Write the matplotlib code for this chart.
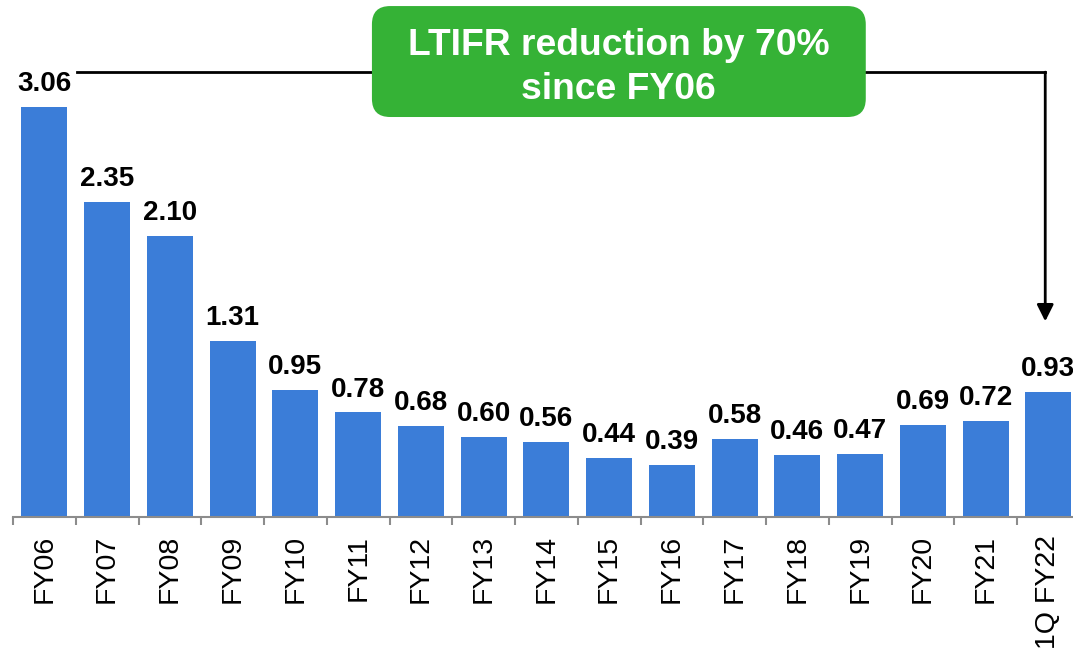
import matplotlib.pyplot as plt
from matplotlib.patches import FancyBboxPatch

# LTIFR по годам
years = ['FY06', 'FY07', 'FY08', 'FY09', 'FY10', 'FY11', 'FY12', 'FY13', 'FY14',
         'FY15', 'FY16', 'FY17', 'FY18', 'FY19', 'FY20', 'FY21', '1Q FY22']
ltifr = [3.06, 2.35, 2.10, 1.31, 0.95, 0.78, 0.68, 0.60, 0.56,
         0.44, 0.39, 0.58, 0.46, 0.47, 0.69, 0.72, 0.93]
note = ['LTIFR reduction by 70%', 'since FY06']

plt.rcParams['font.family'] = ['Liberation Sans', 'DejaVu Sans']

blue = '#3b7dd8'
green = '#35b236'
gray = '#8c8c8c'

fig = plt.figure(figsize=(10.73, 6.49), dpi=100)
ax = fig.add_axes([13 / 1073, 132 / 649, 1066.75 / 1073, 517 / 649])

x = list(range(len(years)))
ax.bar(x, ltifr, width=0.733, color=blue)

for i, v in zip(x, ltifr):
    ax.annotate('%.2f' % v, (i, v), xytext=(0, 11.5), textcoords='offset points',
                ha='center', va='baseline', fontsize=20, fontweight='bold',
                annotation_clip=False)

ax.set_xlim(-0.5, len(years) - 0.5)
ax.set_ylim(0, 517 / 134)

for s in ['top', 'right', 'left']:
    ax.spines[s].set_visible(False)
ax.spines['bottom'].set_color(gray)
ax.spines['bottom'].set_linewidth(1.5)
ax.set_yticks([])

ax.set_xticks(x)
ax.set_xticklabels(years, rotation=90, fontsize=20.5)
ax.set_xticks([i - 0.5 for i in range(len(years) + 1)], minor=True)
ax.tick_params(axis='x', which='major', length=0, pad=13)
ax.tick_params(axis='x', which='minor', length=6, width=1.5, color=gray)

# зелёная плашка
bx0, bx1 = 5.22, 13.09
by0, by1 = 2.985, 3.813
box = FancyBboxPatch((bx0, by0), bx1 - bx0, by1 - by0,
                     boxstyle='round,pad=0,rounding_size=0.29',
                     mutation_aspect=0.468, facecolor=green, edgecolor='none',
                     zorder=3)
ax.add_patch(box)
cx = (bx0 + bx1) / 2
ax.text(cx, 3.515, note[0], ha='center', va='center', color='white',
        fontsize=26.8, fontweight='bold', zorder=4)
ax.text(cx, 3.19, note[1], ha='center', va='center', color='white',
        fontsize=26.8, fontweight='bold', zorder=4)

# линии со стрелкой
ly = 3.32
ax.plot([0.52, bx0], [ly, ly], color='black', lw=2, zorder=2)
ax.plot([bx1, 15.95], [ly, ly], color='black', lw=2, zorder=2, solid_capstyle='projecting')
ax.annotate('', xy=(15.95, 1.46), xytext=(15.95, ly),
            arrowprops=dict(arrowstyle='-|>', color='black', lw=2,
                            mutation_scale=25, shrinkA=0, shrinkB=0))

fig.savefig('out.png', dpi=100)
